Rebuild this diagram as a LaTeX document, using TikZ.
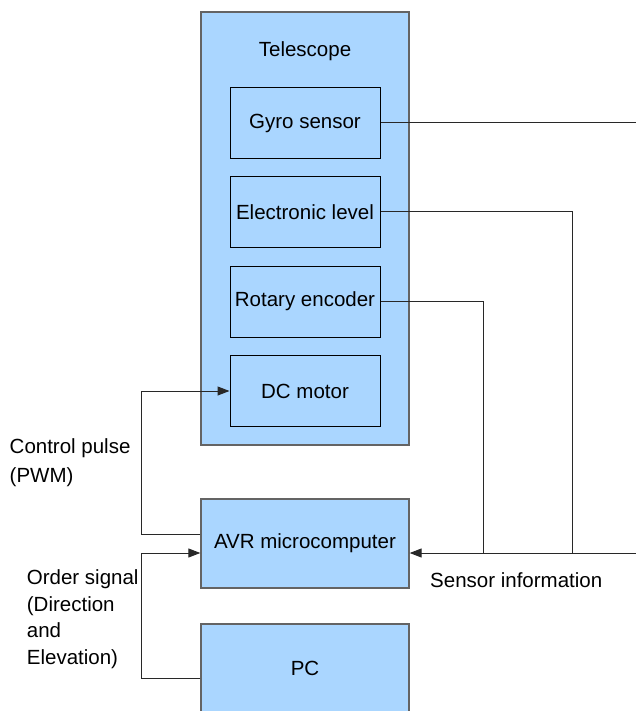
\documentclass[tikz,border=0pt]{standalone}
\usepackage{fontspec}
\setmainfont{Liberation Sans}
\usetikzlibrary{arrows.meta}
\definecolor{boxfill}{RGB}{170,214,255}
\definecolor{outerline}{RGB}{100,100,100}
\definecolor{wire}{RGB}{40,40,40}
\tikzset{
  outerbox/.style={draw=outerline, line width=1.3pt, fill=boxfill, minimum width=208pt, inner sep=0pt},
  innerbox/.style={draw=black, line width=1pt, fill=boxfill, minimum width=150pt, minimum height=71pt, inner sep=0pt},
  wireline/.style={draw=wire, line width=1pt},
  arr/.style={wireline, -{Triangle[length=12pt,width=9pt]}},
  lbl/.style={inner sep=0pt, align=left, anchor=north west},
}
\begin{document}
\begin{tikzpicture}[x=1pt,y=-1pt,font=\fontsize{20.5}{25}\selectfont]
\useasboundingbox (0,0) rectangle (636,711);
\begin{scope}
\clip (0,0) rectangle (636,711);
\node[outerbox, minimum height=433pt] (tel) at (305,228.5) {};
\node[inner sep=0pt] (tellbl) at (305,51) {Telescope};
\node[innerbox] (gyro) at (305,123) {Gyro sensor};
\node[innerbox] (elec) at (305,212) {Electronic level};
\node[innerbox] (rot) at (305,301.5) {Rotary encoder};
\node[innerbox] (dc) at (305,391) {DC motor};
\node[outerbox, minimum height=89pt] (avr) at (305,543.5) {AVR microcomputer};
\node[outerbox, minimum height=89pt] (pc) at (305,668.5) {PC};

\coordinate (gyroend) at (636,123);
\coordinate (sensend) at (636,553);
\coordinate (elecx) at (572,212);
\coordinate (rotx) at (483,301.5);
\coordinate (leftx) at (141.7,0);

\draw[wireline] (gyro.east) -- (gyroend);
\draw[wireline] (elec.east) -- (elecx) -- (elecx |- sensend);
\draw[wireline] (rot.east) -- (rotx) -- (rotx |- sensend);
\draw[arr] (sensend) -- (avr.east |- sensend);

\draw[arr] (avr.west |- 0,534) -- (leftx |- 0,534) -- (leftx |- dc.west) -- (dc.west);
\draw[arr] (pc.west |- 0,678) -- (leftx |- 0,678) -- (leftx |- 0,553) -- (avr.west |- 0,553);

\node[lbl, font=\fontsize{20.5}{29}\selectfont] (ctrl) at (9.5,438) {Control pulse\\(PWM)};
\node[lbl, font=\fontsize{20.5}{26.5}\selectfont] (order) at (26.7,569.5) {Order signal\\(Direction\\and\\Elevation)};
\node[lbl] (sens) at (430,572) {Sensor information};
\end{scope}
\end{tikzpicture}
\end{document}
